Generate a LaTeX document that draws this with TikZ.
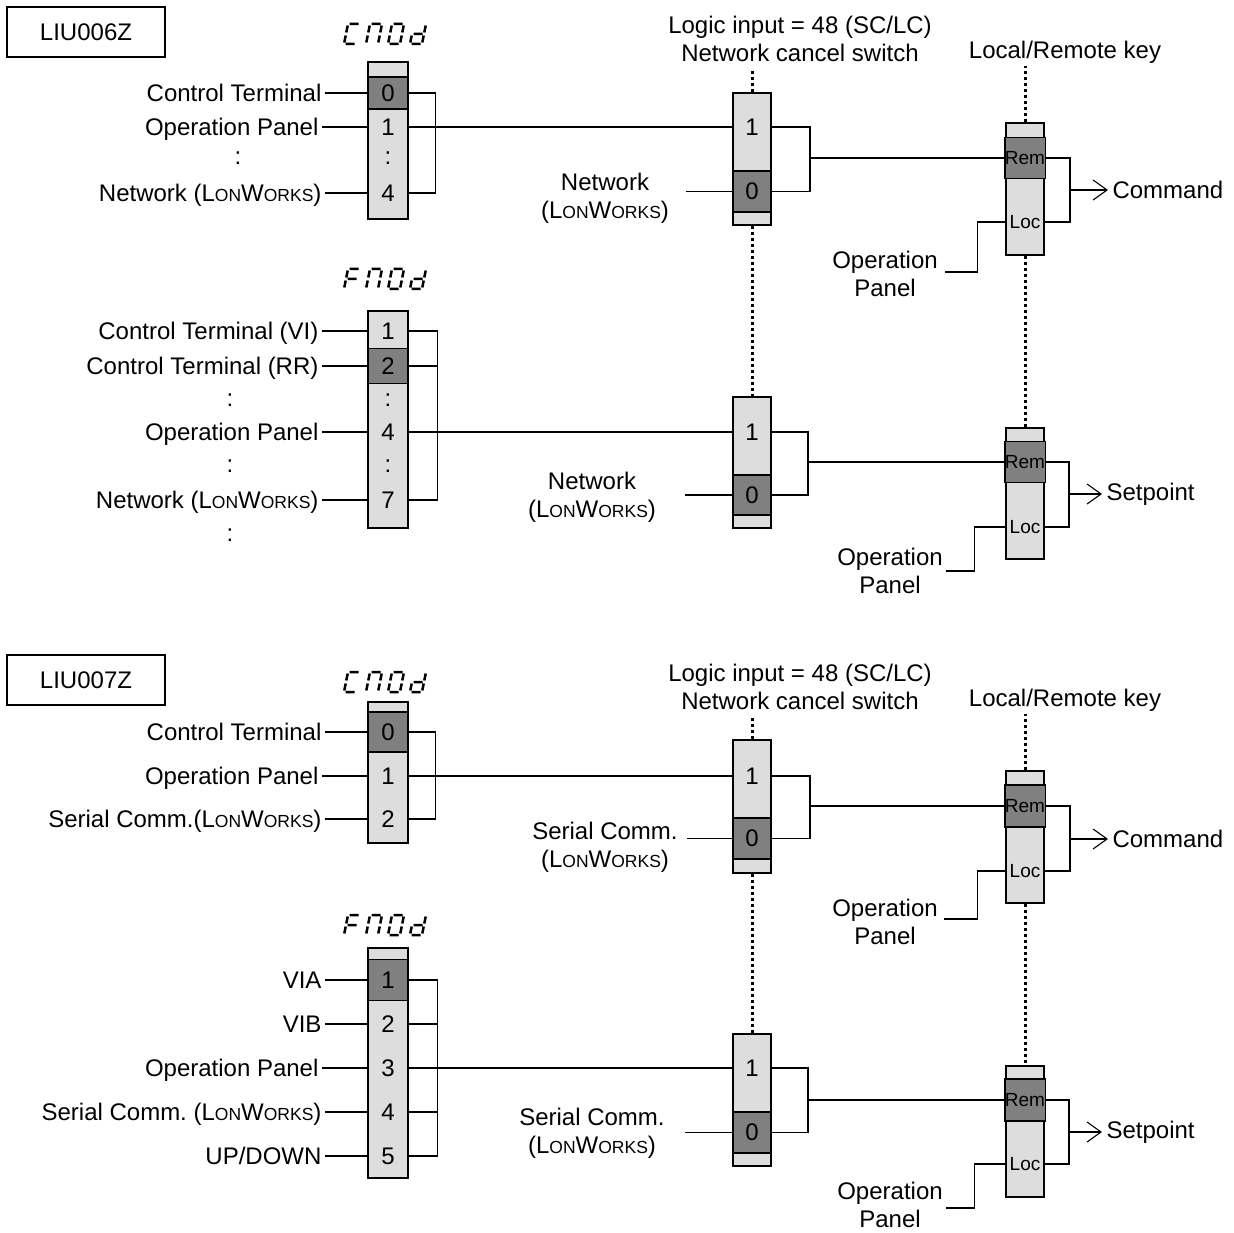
\documentclass[tikz,border=0pt]{standalone}
\usepackage{fontspec}
\setmainfont{Liberation Sans}
\usetikzlibrary{arrows.meta}
\frenchspacing

\definecolor{cellgray}{RGB}{221,221,221}
\definecolor{selgray}{RGB}{128,128,128}

\newcommand{\lonw}{L{\fontsize{17.5}{17.5}\selectfont ON}W{\fontsize{17.5}{17.5}\selectfont ORKS}}
% seven segment letters
\def\segC{(1.5,0) -- (10.5,0) (0,1.5) -- (0,8.5) (0,11.5) -- (0,18.5) (1.5,20) -- (10.5,20)}
\def\segM{(1.5,0) -- (10.5,0) (12,1.5) -- (12,8.5) (12,11.5) -- (12,18.5) (0,1.5) -- (0,8.5) (0,11.5) -- (0,18.5)}
\def\segO{(1.5,0) -- (10.5,0) (12,1.5) -- (12,8.5) (12,11.5) -- (12,18.5) (0,1.5) -- (0,8.5) (0,11.5) -- (0,18.5) (1.5,20) -- (10.5,20)}
\def\segd{(12,1.5) -- (12,8.5) (12,11.5) -- (12,18.5) (1.5,20) -- (10.5,20) (0,11.5) -- (0,18.5) (1.5,10) -- (10.5,10)}
\def\segF{(1.5,0) -- (10.5,0) (0,1.5) -- (0,8.5) (0,11.5) -- (0,18.5) (1.5,10) -- (10.5,10)}
\newcommand{\segword}[3]{%
  \foreach \ch [count=\i from 0] in {#3}
    \draw[segline, shift={(#1+22*\i,#2)}, xslant=0.2] \ch;}

\tikzset{
  bar/.style={draw, fill=cellgray, inner sep=0pt, minimum width=40pt},
  sel/.style={draw, fill=selgray, inner sep=0pt, minimum width=40pt},
  num/.style={inner sep=0pt, minimum width=40pt, minimum height=20pt},
  remfont/.style={font=\fontsize{19}{19}\selectfont},
  lbl/.style={anchor=east, inner xsep=3pt, inner ysep=0pt, text height=17pt, text depth=0pt},
  keyline/.style={line width=3pt, dash pattern=on 3pt off 3pt},
  segline/.style={line width=2.5pt},
  outarrow/.style={-{Straight Barb[length=14pt,width=20pt]}},
}

\begin{document}
\begin{tikzpicture}[x=1pt, y=-1pt, line width=1.1pt, font=\fontsize{24}{28}\selectfont]
\useasboundingbox (0,0) rectangle (1234,1233);

%%% LIU006Z
\node[draw, minimum width=158pt, minimum height=50pt] (typeA) at (86,32) {LIU006Z};

% command selector
\segword{348}{24}{\segC,\segM,\segO,\segd}
\node[bar, minimum height=157pt] (cmA) at (388,140.5) {};
\node[sel, minimum height=32pt] (cmA0) at (388,93) {0};
\node[num] (cmA1) at (388,127) {1};
\node[num] (cmAd) at (388,158) {:};
\node[num] (cmA4) at (388,193) {4};
\node[lbl] (ctA) at (325,93) {Control Terminal};
\node[lbl] (opA) at (322,127) {Operation Panel};
\node (dA) at (238,158) {:};
\node[lbl] (nwA) at (325,193) {Network (\lonw)};
\draw (ctA.east) -- (cmA0.west);
\draw (opA.east) -- (cmA1.west);
\draw (nwA.east) -- (cmA4.west);
\draw (cmA0.east) -- ++(27,0) |- (cmA4.east);

% network cancel switch
\node[align=center] (lgA) at (800,39) {Logic input = 48 (SC/LC)\\Network cancel switch};
\node[bar, minimum width=38pt, minimum height=132pt] (ncA) at (752,159) {};
\node[sel, minimum width=38pt, minimum height=41pt] (ncA0) at (752,191.5) {0};
\node[num, minimum width=38pt] (ncA1) at (752,127) {1};
\node[align=center] (nwinA) at (605,198) {Network\\(\lonw)};
\coordinate (nwendA) at (686,191.5);
\coordinate (ncjA) at (810,158);
\draw (cmA1.east) -- (ncA1.west);
\draw (nwendA) -- (ncA0.west);
\draw (ncA1.east) -| (ncjA) |- (ncA0.east);
\draw[keyline] (ncA.north) -- ++(0,-23);

% local/remote key
\node (keyA) at (1065,52) {Local/Remote key};
\node[bar, minimum width=38pt, minimum height=132pt] (rlA) at (1025,189) {};
\node[sel, remfont, minimum width=38pt, minimum height=41pt] (rmA) at (1025,158) {Rem};
\node[num, remfont, minimum width=38pt] (lcA) at (1025,222) {Loc};
\node[anchor=west, inner xsep=4pt] (cmdA) at (1108,190) {Command};
\node[align=center] (opinA) at (885,274) {Operation\\Panel};
\coordinate (rljA) at (1070,190);
\coordinate (opendA) at (945,272);
\draw (ncjA) -- (rmA.west);
\draw (rmA.east) -| (rljA) |- (lcA.east);
\draw[outarrow] (rljA) -- (cmdA.west);
\draw (lcA.west) -- ++(-28,0) |- (opendA);
\draw[keyline] (rlA.north) -- ++(0,-56);

% frequency selector
\segword{348}{269}{\segF,\segM,\segO,\segd}
\node[bar, minimum height=217pt] (fmA) at (388,419.5) {};
\node[sel, minimum height=35pt] (fmA2) at (388,366) {2};
\node[num] (fmA1) at (388,331) {1};
\node[num] (fmAd) at (388,400) {:};
\node[num] (fmA4) at (388,432) {4};
\node[num] (fmAe) at (388,466) {:};
\node[num] (fmA7) at (388,500) {7};
\node[lbl] (viA) at (322,331) {Control Terminal (VI)};
\node[lbl] (rrA) at (322,366) {Control Terminal (RR)};
\node (dB) at (230,400) {:};
\node[lbl] (opB) at (322,432) {Operation Panel};
\node (dC) at (230,466) {:};
\node[lbl] (nwB) at (322,500) {Network (\lonw)};
\node (dD) at (230,535) {:};
\draw (viA.east) -- (fmA1.west);
\draw (rrA.east) -- (fmA2.west);
\draw (opB.east) -- (fmA4.west);
\draw (nwB.east) -- (fmA7.west);
\draw (fmA1.east) -- ++(29,0) |- (fmA7.east);
\draw (fmA2.east) -- ++(29,0);

\node[bar, minimum width=38pt, minimum height=131pt] (ncB) at (752,462.5) {};
\node[sel, minimum width=38pt, minimum height=40pt] (ncB0) at (752,495) {0};
\node[num, minimum width=38pt] (ncB1) at (752,432) {1};
\node[align=center] (nwinB) at (592,497) {Network\\(\lonw)};
\coordinate (nwendB) at (685,495);
\coordinate (ncjB) at (808,462);
\draw (fmA4.east) -- (ncB1.west);
\draw (nwendB) -- (ncB0.west);
\draw (ncB1.east) -| (ncjB) |- (ncB0.east);
\draw[keyline] (ncA.south) -- (ncB.north);

\node[bar, minimum width=38pt, minimum height=131pt] (rlB) at (1025,493.5) {};
\node[sel, remfont, minimum width=38pt, minimum height=41pt] (rmB) at (1025,462) {Rem};
\node[num, remfont, minimum width=38pt] (lcB) at (1025,527) {Loc};
\node[anchor=west, inner xsep=4pt] (spB) at (1102,494) {Setpoint};
\node[align=center] (opinB) at (890,571) {Operation\\Panel};
\coordinate (rljB) at (1069,494);
\coordinate (opendB) at (946,571);
\draw (ncjB) -- (rmB.west);
\draw (rmB.east) -| (rljB) |- (lcB.east);
\draw[outarrow] (rljB) -- (spB.west);
\draw (lcB.west) -- ++(-31,0) |- (opendB);
\draw[keyline] (rlA.south) -- (rlB.north);

%%% LIU007Z
\node[draw, minimum width=158pt, minimum height=50pt] (typeB) at (86,680) {LIU007Z};

% command selector
\segword{348}{672}{\segC,\segM,\segO,\segd}
\node[bar, minimum height=141pt] (cmC) at (388,772.5) {};
\node[sel, minimum height=40pt] (cmC0) at (388,732) {0};
\node[num] (cmC1) at (388,776) {1};
\node[num] (cmC2) at (388,819) {2};
\node[lbl] (ctC) at (325,732) {Control Terminal};
\node[lbl] (opC) at (322,776) {Operation Panel};
\node[lbl] (scC) at (325,819) {Serial Comm.(\lonw)};
\draw (ctC.east) -- (cmC0.west);
\draw (opC.east) -- (cmC1.west);
\draw (scC.east) -- (cmC2.west);
\draw (cmC0.east) -- ++(27,0) |- (cmC2.east);

\node[align=center] (lgC) at (800,687) {Logic input = 48 (SC/LC)\\Network cancel switch};
\node[bar, minimum width=38pt, minimum height=133pt] (ncC) at (752,806.5) {};
\node[sel, minimum width=38pt, minimum height=41pt] (ncC0) at (752,838.5) {0};
\node[num, minimum width=38pt] (ncC1) at (752,776) {1};
\node[align=center] (scinC) at (605,847) {Serial Comm.\\(\lonw)};
\coordinate (scendC) at (687,838.5);
\coordinate (ncjC) at (810,806);
\draw (cmC1.east) -- (ncC1.west);
\draw (scendC) -- (ncC0.west);
\draw (ncC1.east) -| (ncjC) |- (ncC0.east);
\draw[keyline] (ncC.north) -- ++(0,-21);

\node (keyC) at (1065,700) {Local/Remote key};
\node[bar, minimum width=38pt, minimum height=132pt] (rlC) at (1025,837) {};
\node[sel, remfont, minimum width=38pt, minimum height=42pt] (rmC) at (1025,806) {Rem};
\node[num, remfont, minimum width=38pt] (lcC) at (1025,871) {Loc};
\node[anchor=west, inner xsep=4pt] (cmdC) at (1108,839) {Command};
\node[align=center] (opinC) at (885,922) {Operation\\Panel};
\coordinate (rljC) at (1070,839);
\coordinate (opendC) at (944,919);
\draw (ncjC) -- (rmC.west);
\draw (rmC.east) -| (rljC) |- (lcC.east);
\draw[outarrow] (rljC) -- (cmdC.west);
\draw (lcC.west) -- ++(-28,0) |- (opendC);
\draw[keyline] (rlC.north) -- ++(0,-56);

% frequency selector
\segword{348}{915}{\segF,\segM,\segO,\segd}
\node[bar, minimum height=230pt] (fmD) at (388,1063) {};
\node[sel, minimum height=41pt] (fmD1) at (388,980) {1};
\node[num] (fmD2) at (388,1024) {2};
\node[num] (fmD3) at (388,1068) {3};
\node[num] (fmD4) at (388,1112) {4};
\node[num] (fmD5) at (388,1156) {5};
\node[lbl] (viaD) at (325,980) {VIA};
\node[lbl] (vibD) at (325,1024) {VIB};
\node[lbl] (opD) at (322,1068) {Operation Panel};
\node[lbl] (scD) at (325,1112) {Serial Comm. (\lonw)};
\node[lbl] (udD) at (325,1156) {UP/DOWN};
\draw (viaD.east) -- (fmD1.west);
\draw (vibD.east) -- (fmD2.west);
\draw (opD.east) -- (fmD3.west);
\draw (scD.east) -- (fmD4.west);
\draw (udD.east) -- (fmD5.west);
\draw (fmD1.east) -- ++(29,0) |- (fmD5.east);
\draw (fmD2.east) -- ++(29,0);
\draw (fmD4.east) -- ++(29,0);

\node[bar, minimum width=38pt, minimum height=132pt] (ncD) at (752,1100) {};
\node[sel, minimum width=38pt, minimum height=41pt] (ncD0) at (752,1132.5) {0};
\node[num, minimum width=38pt] (ncD1) at (752,1068) {1};
\node[align=center] (scinD) at (592,1133) {Serial Comm.\\(\lonw)};
\coordinate (scendD) at (685,1132.5);
\coordinate (ncjD) at (808,1100);
\draw (fmD3.east) -- (ncD1.west);
\draw (scendD) -- (ncD0.west);
\draw (ncD1.east) -| (ncjD) |- (ncD0.east);
\draw[keyline] (ncC.south) -- (ncD.north);

\node[bar, minimum width=38pt, minimum height=131pt] (rlD) at (1025,1131.5) {};
\node[sel, remfont, minimum width=38pt, minimum height=42pt] (rmD) at (1025,1100) {Rem};
\node[num, remfont, minimum width=38pt] (lcD) at (1025,1164) {Loc};
\node[anchor=west, inner xsep=4pt] (spD) at (1102,1132) {Setpoint};
\node[align=center] (opinD) at (890,1205) {Operation\\Panel};
\coordinate (rljD) at (1069,1132);
\coordinate (opendD) at (946,1208);
\draw (ncjD) -- (rmD.west);
\draw (rmD.east) -| (rljD) |- (lcD.east);
\draw[outarrow] (rljD) -- (spD.west);
\draw (lcD.west) -- ++(-31,0) |- (opendD);
\draw[keyline] (rlC.south) -- (rlD.north);
\end{tikzpicture}
\end{document}
